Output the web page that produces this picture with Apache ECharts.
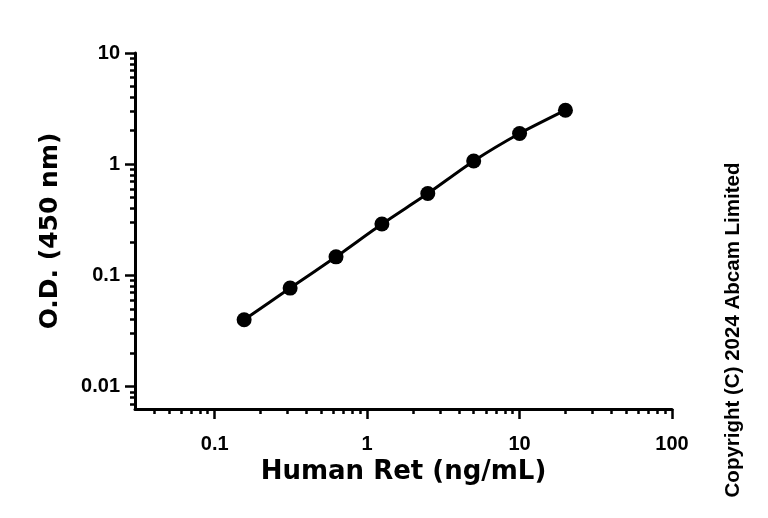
<!DOCTYPE html>
<html>
<head>
<meta charset="utf-8">
<script src="https://cdn.jsdelivr.net/npm/echarts@6/dist/echarts.min.js"></script>
<style>
  html, body { margin: 0; padding: 0; background: #fff; }
  #chart { width: 768px; height: 518px; }
</style>
</head>
<body>
<div id="chart"></div>
<script>
// standard curve: 2-fold dilution of Human Ret
const conc = [0.156, 0.3125, 0.625, 1.25, 2.5, 5, 10, 20];
const od = [0.040, 0.077, 0.147, 0.29, 0.545, 1.07, 1.89, 3.06];

// tick labels
const xMajor = [0.1, 1, 10, 100];
const yMajor = [0.01, 0.1, 1, 10];
const xMinor = [0.04, 0.05, 0.06, 0.07, 0.08, 0.09,
  0.2, 0.3, 0.4, 0.5, 0.6, 0.7, 0.8, 0.9,
  2, 3, 4, 5, 6, 7, 8, 9,
  20, 30, 40, 50, 60, 70, 80, 90];
const yMinor = [0.007, 0.008, 0.009,
  0.02, 0.03, 0.04, 0.05, 0.06, 0.07, 0.08, 0.09,
  0.2, 0.3, 0.4, 0.5, 0.6, 0.7, 0.8, 0.9,
  2, 3, 4, 5, 6, 7, 8, 9];

const xMin = 0.03, xMax = 100;
const yMin = 0.0063, yMax = 10;

const labelFont = { color: '#000', fontSize: 20, fontWeight: 'bold', fontFamily: '"Liberation Sans", Arial, sans-serif' };
const nameFont = { color: '#000', fontSize: 26, fontWeight: 'bold', fontFamily: '"DejaVu Sans", sans-serif' };

let chart = echarts.init(document.getElementById('chart'));

let option = {
  backgroundColor: '#fff',
  animation: false,
  grid: { left: 135, right: 96, top: 53, bottom: 109, containLabel: false },
  xAxis: [
    {
      type: 'log', logBase: 10, min: xMin, max: xMax,
      name: 'Human Ret (ng/mL)', nameLocation: 'middle', nameGap: 47,
      nameTextStyle: nameFont,
      axisLine: { show: true, lineStyle: { color: '#000', width: 3 } },
      axisTick: { show: true, customValues: xMajor, length: 10, lineStyle: { color: '#000', width: 2.5 } },
      axisLabel: Object.assign({ customValues: xMajor, margin: 25, formatter: v => String(v) }, labelFont),
      splitLine: { show: false }
    },
    {
      // minor ticks only
      type: 'log', logBase: 10, min: xMin, max: xMax, position: 'bottom',
      axisLine: { show: false },
      axisTick: { show: true, customValues: xMinor, length: 5, lineStyle: { color: '#000', width: 2.5 } },
      axisLabel: { show: false },
      splitLine: { show: false }
    }
  ],
  yAxis: [
    {
      type: 'log', logBase: 10, min: yMin, max: yMax,
      name: 'O.D. (450 nm)', nameLocation: 'middle', nameGap: 72,
      nameTextStyle: Object.assign({}, nameFont, { fontSize: 25 }),
      axisLine: { show: true, lineStyle: { color: '#000', width: 3 } },
      axisTick: { show: true, customValues: yMajor, length: 10, lineStyle: { color: '#000', width: 2.5 } },
      axisLabel: Object.assign({ customValues: yMajor, margin: 15, formatter: v => String(v) }, labelFont),
      splitLine: { show: false }
    },
    {
      // minor ticks only
      type: 'log', logBase: 10, min: yMin, max: yMax, position: 'left',
      axisLine: { show: false },
      axisTick: { show: true, customValues: yMinor, length: 5, lineStyle: { color: '#000', width: 2.5 } },
      axisLabel: { show: false },
      splitLine: { show: false }
    }
  ],
  series: [
    {
      type: 'line',
      xAxisIndex: 0, yAxisIndex: 0,
      data: conc.map((c, i) => [c, od[i]]),
      smooth: 0.2,
      symbol: 'circle', symbolSize: 15,
      itemStyle: { color: '#000' },
      lineStyle: { color: '#000', width: 3 }
    }
  ],
  graphic: [
    {
      type: 'text', x: 733, y: 330, rotation: Math.PI / 2,
      style: {
        text: 'Copyright (C) 2024 Abcam Limited',
        font: 'bold 20.5px "Liberation Sans", Arial, sans-serif',
        fill: '#000', align: 'center', verticalAlign: 'middle'
      }
    }
  ]
};

chart.setOption(option);
</script>
</body>
</html>
